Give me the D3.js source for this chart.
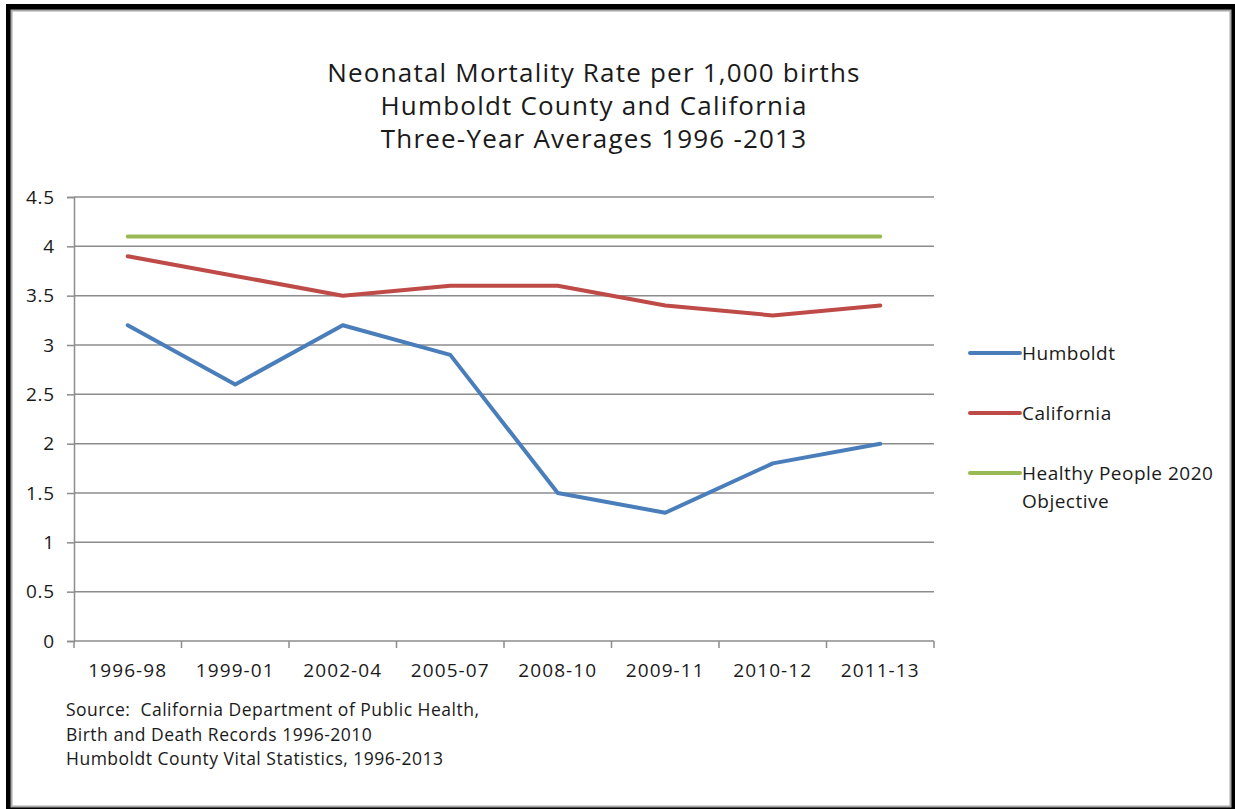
<!DOCTYPE html>
<html>
<head>
<meta charset="utf-8">
<script src="https://cdn.jsdelivr.net/npm/d3@7"></script>
<style>
  body { margin: 0; background: #fff; }
  svg { display: block; font-family: "Open Sans", sans-serif; }
  text { white-space: pre; }
</style>
</head>
<body>
<svg id="chart" width="1235" height="809"></svg>
<script>
// data
const periods = ["1996-98", "1999-01", "2002-04", "2005-07", "2008-10", "2009-11", "2010-12", "2011-13"]
const humboldt = [3.2, 2.6, 3.2, 2.9, 1.5, 1.3, 1.8, 2.0]
const california = [3.9, 3.7, 3.5, 3.6, 3.6, 3.4, 3.3, 3.4]
const objective = [4.1, 4.1, 4.1, 4.1, 4.1, 4.1, 4.1, 4.1]
const yTicks = [0, 0.5, 1, 1.5, 2, 2.5, 3, 3.5, 4, 4.5]
const titleLines = ["Neonatal Mortality Rate per 1,000 births", "Humboldt County and California", "Three-Year Averages 1996 -2013"]
const sourceLines = ["Source:  California Department of Public Health,", "Birth and Death Records 1996-2010", "Humboldt County Vital Statistics, 1996-2013"]

const series = [
  {name: "Humboldt", values: humboldt, color: "#4a7ebb"},
  {name: "California", values: california, color: "#be4b48"},
  {name: "Healthy People 2020|Objective", values: objective, color: "#98b954"}
]

const svg = d3.select("#chart")

// frame: thick black outer edge, thin grey inner edge
svg.append("rect").attr("x", 6).attr("y", 4).attr("width", 1229).attr("height", 805).attr("fill", "#000")
svg.append("rect").attr("x", 11.5).attr("y", 10.5).attr("width", 1219).attr("height", 796)
  .attr("fill", "#fff").attr("stroke", "#a8a8a8").attr("stroke-width", 2)

const plot = {left: 74, right: 934, top: 197, bottom: 641}

const x = d3.scaleBand().domain(periods).range([plot.left, plot.right])
const y = d3.scaleLinear().domain([0, 4.5]).range([plot.bottom, plot.top])

// title
svg.append("g").selectAll("text").data(titleLines).join("text")
  .attr("x", 594).attr("y", (d, i) => 82 + i * 33)
  .attr("text-anchor", "middle").attr("font-size", 26).attr("letter-spacing", 1.2).attr("fill", "#1a1a1a")
  .text(d => d)

// gridlines
svg.append("g").selectAll("line").data(yTicks.filter(d => d > 0)).join("line")
  .attr("x1", plot.left).attr("x2", plot.right)
  .attr("y1", d => y(d)).attr("y2", d => y(d))
  .attr("stroke", "#8c8c8c").attr("stroke-width", 1.5)

// y axis
const yAxis = svg.append("g").attr("transform", `translate(${plot.left},0)`)
  .call(d3.axisLeft(y).tickValues(yTicks).tickSize(7).tickPadding(12).tickFormat(d => d))
yAxis.attr("font-family", null).attr("font-size", null)
yAxis.select(".domain").attr("stroke", "#8c8c8c").attr("stroke-width", 1.5)
yAxis.selectAll(".tick line").attr("stroke", "#8c8c8c").attr("stroke-width", 1.5)
yAxis.selectAll("text").attr("font-size", 19).attr("letter-spacing", 0.8).attr("fill", "#1a1a1a")

// x axis, ticks at band edges like the original
const xAxis = svg.append("g").attr("transform", `translate(0,${plot.bottom})`)
xAxis.append("line").attr("x1", plot.left).attr("x2", plot.right)
  .attr("stroke", "#8c8c8c").attr("stroke-width", 1.5)
const edges = periods.map(p => x(p)).concat([plot.right])
xAxis.selectAll(".edge").data(edges).join("line").attr("class", "edge")
  .attr("x1", d => d).attr("x2", d => d).attr("y1", 0).attr("y2", 7)
  .attr("stroke", "#8c8c8c").attr("stroke-width", 1.5)
xAxis.selectAll("text").data(periods).join("text")
  .attr("x", d => x(d) + x.bandwidth() / 2).attr("y", 36)
  .attr("text-anchor", "middle").attr("font-size", 19).attr("letter-spacing", 1.1).attr("fill", "#1a1a1a")
  .text(d => d)

// lines
const line = d3.line()
  .x((d, i) => x(periods[i]) + x.bandwidth() / 2)
  .y(d => y(d))

svg.append("g").selectAll("path").data(series.slice().reverse()).join("path")
  .attr("d", d => line(d.values))
  .attr("fill", "none").attr("stroke", d => d.color)
  .attr("stroke-width", 4).attr("stroke-linejoin", "round").attr("stroke-linecap", "round")

// legend
const legend = svg.append("g").selectAll("g").data(series).join("g")
  .attr("transform", (d, i) => `translate(970,${353 + i * 60})`)
legend.append("line").attr("x1", 0).attr("x2", 50)
  .attr("stroke", d => d.color).attr("stroke-width", 4).attr("stroke-linecap", "round")
legend.append("text").attr("x", 52).attr("y", 7).attr("font-size", 19).attr("letter-spacing", 0.5).attr("fill", "#1a1a1a")
  .selectAll("tspan").data(d => d.name.split("|")).join("tspan")
  .attr("x", 52).attr("dy", (d, i) => i ? 28 : 0).text(d => d)

// source note
svg.append("g").selectAll("text").data(sourceLines).join("text")
  .attr("x", 66).attr("y", (d, i) => 716 + i * 24.5)
  .attr("font-size", 17.5).attr("letter-spacing", 0.5).attr("fill", "#1a1a1a")
  .text(d => d)
</script>
</body>
</html>
